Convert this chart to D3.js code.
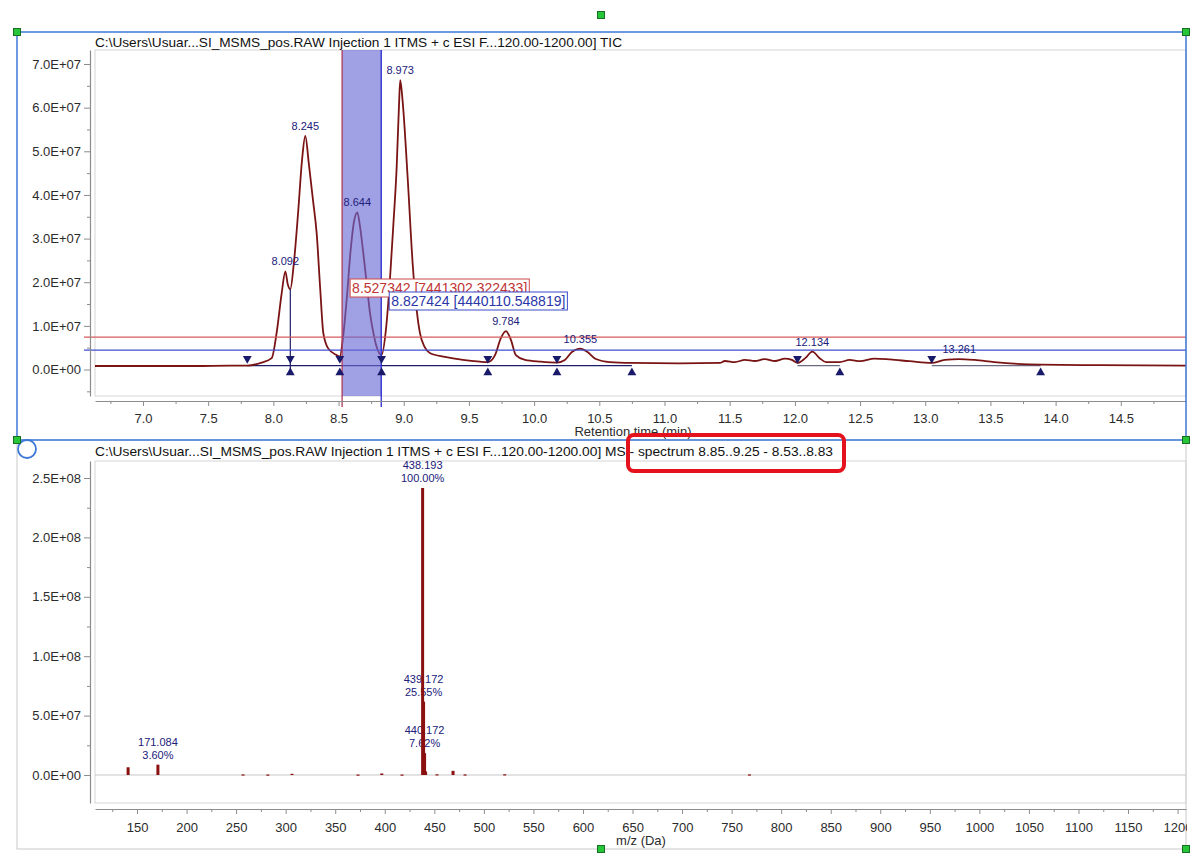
<!DOCTYPE html>
<html>
<head>
<meta charset="utf-8">
<script src="https://cdn.jsdelivr.net/npm/d3@7"></script>
<style>
  html, body { margin: 0; padding: 0; background: #ffffff; }
  svg { display: block; font-family: "Liberation Sans", Arial, sans-serif; }
</style>
</head>
<body>
<svg id="chart" width="1193" height="865"></svg>
<script>
// ---------- TIC chromatogram ----------
const rtTimes = [
  6.632, 7.00, 7.40, 7.667, 7.80, 7.91, 7.987, 8.025, 8.064, 8.092, 8.11, 8.13,
  8.158, 8.19, 8.22, 8.245, 8.273, 8.304, 8.332, 8.36, 8.383, 8.419, 8.485, 8.51,
  8.535, 8.562, 8.593, 8.618, 8.644, 8.664, 8.687, 8.715, 8.741, 8.77, 8.792, 8.83,
  8.863, 8.894, 8.92, 8.946, 8.963, 8.973, 8.99, 9.03, 9.07, 9.10, 9.124, 9.16,
  9.20, 9.316, 9.454, 9.584, 9.645, 9.70, 9.745, 9.784, 9.822, 9.86, 9.93, 10.05,
  10.175, 10.236, 10.29, 10.355, 10.41, 10.474, 10.58, 10.75, 11.118, 11.425, 11.463, 11.54,
  11.617, 11.693, 11.77, 11.847, 11.923, 11.977, 12.02, 12.08, 12.134, 12.19, 12.24, 12.345,
  12.42, 12.50, 12.61, 12.73, 12.88, 13.05, 13.15, 13.261, 13.38, 13.53, 13.885, 14.34, 15.0
];
const ticIntensity = [
  0.08e7, 0.08e7, 0.08e7, 0.09e7, 0.09e7, 0.16e7, 0.26e7, 0.84e7, 1.75e7, 2.25e7, 1.96e7, 1.84e7,
  2.46e7, 3.60e7, 4.80e7, 5.35e7, 4.69e7, 3.88e7, 3.13e7, 1.82e7, 0.84e7, 0.49e7, 0.33e7, 0.30e7,
  0.75e7, 1.59e7, 2.74e7, 3.38e7, 3.60e7, 3.29e7, 2.74e7, 2.00e7, 1.30e7, 0.80e7, 0.52e7, 0.33e7,
  0.90e7, 2.05e7, 3.30e7, 4.65e7, 6.00e7, 6.63e7, 6.20e7, 4.40e7, 2.36e7, 1.35e7, 0.84e7, 0.52e7,
  0.38e7, 0.29e7, 0.22e7, 0.18e7, 0.17e7, 0.33e7, 0.72e7, 0.88e7, 0.68e7, 0.33e7, 0.22e7, 0.18e7,
  0.16e7, 0.22e7, 0.40e7, 0.48e7, 0.40e7, 0.24e7, 0.17e7, 0.15e7, 0.14e7, 0.15e7, 0.195e7, 0.17e7,
  0.22e7, 0.195e7, 0.24e7, 0.195e7, 0.25e7, 0.22e7, 0.15e7, 0.26e7, 0.41e7, 0.26e7, 0.17e7, 0.17e7,
  0.22e7, 0.19e7, 0.25e7, 0.23e7, 0.19e7, 0.15e7, 0.22e7, 0.24e7, 0.22e7, 0.17e7, 0.11e7, 0.10e7, 0.09e7
];
const rtTicks = [7.0, 7.5, 8.0, 8.5, 9.0, 9.5, 10.0, 10.5, 11.0, 11.5, 12.0, 12.5, 13.0, 13.5, 14.0, 14.5];
const ticTicks = [0, 1e7, 2e7, 3e7, 4e7, 5e7, 6e7, 7e7];
const peakRT = [8.092, 8.245, 8.644, 8.973, 9.784, 10.355, 12.134, 13.261];
const peakStartRT = [7.80, 8.13, 8.51, 8.83, 9.645, 10.175, 12.02, 13.05];
const peakEndRT = [8.13, 8.51, 8.83, 9.645, 10.175, 10.75, 12.345, 13.885];
const splitRT = [8.13];
const baselineFrom = [7.80, 12.02, 13.05];
const baselineTo = [10.75, 12.345, 13.885];
const baselineLevel = 0.09e7;
const cursorRT = [8.527342, 8.827424];
const cursorLevel = [7441302.322433, 4440110.548819];

// ---------- MS spectrum ----------
const mzValues = [141.0, 171.084, 257.0, 282.0, 306.4, 373.0, 397.0, 417.4, 438.193, 439.172, 440.172, 441.2, 452.7, 468.9, 481.0, 521.0, 768.0];
const mzIntensity = [6500000, 8697600, 500000, 400000, 1000000, 400000, 1300000, 400000, 241600000, 61728800, 18409920, 3000000, 600000, 3500000, 500000, 600000, 500000];
const labeledMz = [171.084, 438.193, 439.172, 440.172];
const mzTicks = d3.range(150, 1201, 50);
const msTicks = [0, 5e7, 1e8, 1.5e8, 2e8, 2.5e8];

const titleTIC = "C:\\Users\\Usuar...SI_MSMS_pos.RAW Injection 1 ITMS + c ESI F...120.00-1200.00] TIC";
const titleMS = "C:\\Users\\Usuar...SI_MSMS_pos.RAW Injection 1 ITMS + c ESI F...120.00-1200.00] MS - spectrum 8.85..9.25 - 8.53..8.83";

// ---------- helpers ----------
const fmtE = v => {
  if (v === 0) return "0.0E+00";
  const parts = v.toExponential(1).split("e");
  const n = +parts[1];
  return parts[0] + "E" + (n < 0 ? "-" : "+") + String(Math.abs(n)).padStart(2, "0");
};
const INK = "#2b2b2b", AXIS = "#8c8c8c", NAVY = "#20207a";

const svg = d3.select("#chart");
svg.append("rect").attr("width", 1193).attr("height", 865).attr("fill", "#fff");
const defs = svg.append("defs");

function styleAxis(g, fontSize) {
  g.selectAll(".domain").attr("stroke", AXIS).attr("stroke-width", 1.2);
  g.selectAll(".tick line").attr("stroke", AXIS);
  g.selectAll(".tick text").attr("fill", INK).style("font-size", fontSize + "px")
    .style("font-family", "'Liberation Sans', Arial, sans-serif");
}

// ================= top panel : chromatogram =================
const P1 = { left: 95, right: 1186, top: 50, bottom: 396 };
const xT = d3.scaleLinear().domain([6.632, 15.0]).range([P1.left, P1.right]);
const yT = d3.scaleLinear().domain([-0.607e7, 7.321e7]).range([P1.bottom, P1.top]);

defs.append("clipPath").attr("id", "clipTop").append("rect")
  .attr("x", P1.left).attr("y", P1.top).attr("width", P1.right - P1.left).attr("height", P1.bottom - P1.top);

svg.append("rect").attr("x", P1.left).attr("y", P1.top)
  .attr("width", P1.right - P1.left).attr("height", P1.bottom - P1.top)
  .attr("fill", "none").attr("stroke", "#d6d6d6");

svg.append("text").attr("x", 95).attr("y", 47).text(titleTIC)
  .attr("fill", "#111").style("font-size", "13px")
  .attr("textLength", 527).attr("lengthAdjust", "spacingAndGlyphs");

const chromLayer = svg.append("g").attr("clip-path", "url(#clipTop)");
const trace = rtTimes.map((t, i) => [t, ticIntensity[i]]);
const valueAt = t => {
  const i = d3.bisector(d => d[0]).left(trace, t);
  if (i <= 0) return trace[0][1];
  if (i >= trace.length) return trace[trace.length - 1][1];
  const a = trace[i - 1], b = trace[i];
  return a[1] + (b[1] - a[1]) * (t - a[0]) / (b[0] - a[0]);
};

// integration baselines
baselineFrom.forEach((t0, i) => {
  chromLayer.append("line")
    .attr("x1", xT(t0)).attr("x2", xT(baselineTo[i]))
    .attr("y1", yT(baselineLevel)).attr("y2", yT(baselineLevel))
    .attr("stroke", i === 0 ? "#1c1c6a" : "#6a6a80").attr("stroke-width", 1.2);
});

// threshold cursors
const cursorColor = ["#d65a5a", "#3f4fd0"];
cursorLevel.forEach((v, i) => {
  svg.append("line").attr("x1", 84).attr("x2", P1.right)
    .attr("y1", yT(v)).attr("y2", yT(v))
    .attr("stroke", cursorColor[i]).attr("stroke-width", 1.2);
});

// TIC trace
chromLayer.append("path").datum(trace)
  .attr("d", d3.line().x(d => xT(d[0])).y(d => yT(d[1])).curve(d3.curveMonotoneX))
  .attr("fill", "none").attr("stroke", "#7a1414").attr("stroke-width", 1.8);

// peak split line
splitRT.forEach(t => {
  chromLayer.append("line").attr("x1", xT(t)).attr("x2", xT(t))
    .attr("y1", yT(valueAt(t))).attr("y2", yT(-0.05e7))
    .attr("stroke", "#1c1c6a").attr("stroke-width", 1.2);
});

// selection band between the two cursors
const bx0 = xT(cursorRT[0]), bx1 = xT(cursorRT[1]);
svg.append("rect").attr("x", bx0).attr("y", P1.top).attr("width", bx1 - bx0).attr("height", P1.bottom - P1.top)
  .attr("fill", "rgb(104,104,212)").attr("fill-opacity", 0.63);
svg.append("line").attr("x1", bx0).attr("x2", bx0).attr("y1", P1.top).attr("y2", 407)
  .attr("stroke", "#b03a5a").attr("stroke-width", 1.3);
svg.append("line").attr("x1", bx1).attr("x2", bx1).attr("y1", P1.top).attr("y2", 407)
  .attr("stroke", "#2a2ad0").attr("stroke-width", 1.3);

// peak boundary markers
const tri = d3.symbol().type(d3.symbolTriangle).size(34);
peakStartRT.forEach(t => {
  svg.append("path").attr("d", tri())
    .attr("transform", `translate(${xT(t)},${yT(baselineLevel) - 7}) rotate(180)`)
    .attr("fill", "#1a1a6a");
});
peakEndRT.forEach(t => {
  svg.append("path").attr("d", tri())
    .attr("transform", `translate(${xT(t)},${yT(baselineLevel) + 7})`)
    .attr("fill", "#1a1a6a");
});

// peak apex labels
peakRT.forEach(t => {
  svg.append("text").attr("x", xT(t)).attr("y", yT(valueAt(t)) - 6)
    .attr("text-anchor", "middle").attr("fill", NAVY).style("font-size", "11px")
    .text(t.toFixed(3));
});

// cursor read-outs
const boxY = [279, 292];
const boxStroke = ["#d04848", "#3b4bc8"];
const boxText = ["#c03434", "#2a36a8"];
cursorRT.forEach((t, i) => {
  const g = svg.append("g");
  const txt = g.append("text").attr("x", xT(t) + 10).attr("y", boxY[i] + 14)
    .attr("fill", boxText[i]).style("font-size", "14px")
    .text(`${t.toFixed(6)} [${cursorLevel[i].toFixed(6)}]`);
  const w = txt.node().getComputedTextLength();
  g.insert("rect", "text").attr("x", xT(t) + 8).attr("y", boxY[i])
    .attr("width", w + 4).attr("height", 18)
    .attr("fill", "#fff").attr("stroke", boxStroke[i]).attr("stroke-width", 1);
});

// axes
const yAxT = svg.append("g").attr("transform", "translate(90,0)")
  .call(d3.axisLeft(yT).tickValues(ticTicks).tickFormat(fmtE).tickSize(6).tickPadding(3).tickSizeOuter(0));
styleAxis(yAxT, 13);
svg.append("g").attr("transform", "translate(90,0)")
  .call(d3.axisLeft(yT).tickValues(d3.range(-0.5e7, 7.1e7, 1e7)).tickFormat("").tickSize(3).tickSizeOuter(0))
  .call(g => { g.select(".domain").remove(); g.selectAll("line").attr("stroke", AXIS); });

const xAxT = svg.append("g").attr("transform", "translate(0,401)")
  .call(d3.axisBottom(xT).tickValues(rtTicks).tickFormat(d3.format(".1f")).tickSize(5).tickPadding(8).tickSizeOuter(0));
styleAxis(xAxT, 13);
svg.append("g").attr("transform", "translate(0,401)")
  .call(d3.axisBottom(xT).tickValues(d3.range(6.75, 15, 0.5)).tickFormat("").tickSize(3).tickSizeOuter(0))
  .call(g => { g.select(".domain").remove(); g.selectAll("line").attr("stroke", AXIS); });

svg.append("text").attr("x", 633).attr("y", 436).attr("text-anchor", "middle")
  .attr("fill", INK).style("font-size", "13px").text("Retention time (min)");

// ================= bottom panel : spectrum =================
const P2 = { left: 95, right: 1186, top: 461, bottom: 803 };
const xM = d3.scaleLinear().domain([107.6, 1208.5]).range([P2.left, P2.right]);
const yM = d3.scaleLinear().domain([-2.357e7, 2.643e8]).range([P2.bottom, P2.top]);

svg.append("rect").attr("x", 17).attr("y", 440).attr("width", 1186 - 17).attr("height", 849 - 440)
  .attr("fill", "none").attr("stroke", "#c9c9c9");

svg.append("rect").attr("x", P2.left).attr("y", P2.top)
  .attr("width", P2.right - P2.left).attr("height", P2.bottom - P2.top)
  .attr("fill", "none").attr("stroke", "#d6d6d6");

svg.append("text").attr("x", 95).attr("y", 456).text(titleMS)
  .attr("fill", "#111").style("font-size", "13px")
  .attr("textLength", 738).attr("lengthAdjust", "spacingAndGlyphs");

svg.append("line").attr("x1", P2.left).attr("x2", P2.right)
  .attr("y1", yM(0)).attr("y2", yM(0)).attr("stroke", "#c8c8c8").attr("stroke-width", 1.2);

const maxI = d3.max(mzIntensity);
labeledMz.forEach(m => {
  const v = mzIntensity[mzValues.indexOf(m)];
  const g = svg.append("text").attr("text-anchor", "middle").attr("fill", NAVY).style("font-size", "11px");
  g.append("tspan").attr("x", xM(m)).attr("y", yM(v) - 19).text(m.toFixed(3));
  g.append("tspan").attr("x", xM(m)).attr("y", yM(v) - 6).text((v / maxI * 100).toFixed(2) + "%");
});

svg.append("g").selectAll("rect").data(mzValues).join("rect")
  .attr("x", d => xM(d) - 1.5).attr("width", 3)
  .attr("y", (d, i) => yM(mzIntensity[i]))
  .attr("height", (d, i) => Math.max(1.2, yM(0) - yM(mzIntensity[i])))
  .attr("fill", "#8b1010");

const yAxM = svg.append("g").attr("transform", "translate(90,0)")
  .call(d3.axisLeft(yM).tickValues(msTicks).tickFormat(fmtE).tickSize(6).tickPadding(3).tickSizeOuter(0));
styleAxis(yAxM, 13);
svg.append("g").attr("transform", "translate(90,0)")
  .call(d3.axisLeft(yM).tickValues(d3.range(2.5e7, 2.6e8, 5e7)).tickFormat("").tickSize(3).tickSizeOuter(0))
  .call(g => { g.select(".domain").remove(); g.selectAll("line").attr("stroke", AXIS); });

defs.append("clipPath").attr("id", "clipAxisM").append("rect")
  .attr("x", 0).attr("y", 800).attr("width", 1187).attr("height", 60);
const xAxM = svg.append("g").attr("clip-path", "url(#clipAxisM)").append("g").attr("transform", "translate(0,809)")
  .call(d3.axisBottom(xM).tickValues(mzTicks).tickFormat(d3.format("d")).tickSize(5).tickPadding(9).tickSizeOuter(0));
styleAxis(xAxM, 13);
svg.append("g").attr("transform", "translate(0,809)")
  .call(d3.axisBottom(xM).tickValues(d3.range(125, 1200, 50)).tickFormat("").tickSize(3).tickSizeOuter(0))
  .call(g => { g.select(".domain").remove(); g.selectAll("line").attr("stroke", AXIS); });

svg.append("text").attr("x", 641).attr("y", 845).attr("text-anchor", "middle")
  .attr("fill", INK).style("font-size", "13px").text("m/z (Da)");

// ================= selection decorations =================
svg.append("rect").attr("x", 17).attr("y", 32).attr("width", 1186 - 17).attr("height", 440 - 32)
  .attr("fill", "none").attr("stroke", "#3c78d8").attr("stroke-width", 1.5);

svg.append("rect").attr("x", 628).attr("y", 435).attr("width", 216).attr("height", 36)
  .attr("rx", 6).attr("fill", "none").attr("stroke", "#e3121c").attr("stroke-width", 4);

svg.append("circle").attr("cx", 27).attr("cy", 449).attr("r", 9)
  .attr("fill", "#fff").attr("stroke", "#3c78d8").attr("stroke-width", 1.8);

const handles = [[601, 15], [17, 32], [1186, 32], [17, 440], [1186, 440], [601, 849], [1186, 849]];
svg.append("g").selectAll("rect").data(handles).join("rect")
  .attr("x", d => d[0] - 3.5).attr("y", d => d[1] - 3.5).attr("width", 7).attr("height", 7)
  .attr("fill", "#27c63a").attr("stroke", "#16701f").attr("stroke-width", 1);
</script>
</body>
</html>
